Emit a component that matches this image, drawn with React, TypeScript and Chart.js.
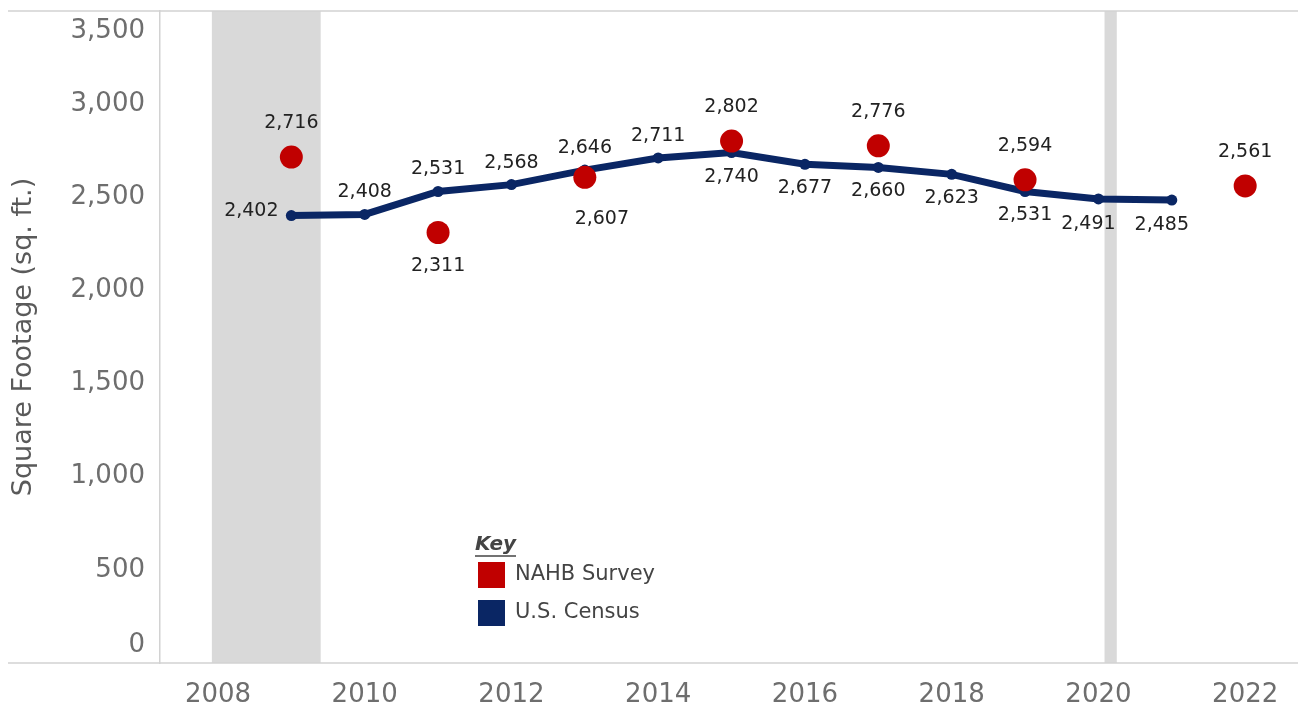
import React, { useEffect, useRef } from "react";
import { Chart, registerables } from "chart.js";

Chart.register(...registerables);

// ---- data ----
const censusYears = [2009, 2010, 2011, 2012, 2013, 2014, 2015, 2016, 2017, 2018, 2019, 2020, 2021];
const censusValues = [2402, 2408, 2531, 2568, 2646, 2711, 2740, 2677, 2660, 2623, 2531, 2491, 2485];
const censusLabelPos = ["left", "above", "above", "above", "above", "above", "below", "below", "below", "below", "below", "belowLeft", "belowLeft"];

const nahbYears = [2009, 2011, 2013, 2015, 2017, 2019, 2022];
const nahbValues = [2716, 2311, 2607, 2802, 2776, 2594, 2561];
const nahbLabelPos = ["above", "below", "belowRight", "above", "above", "above", "above"];

const xTicks = [2008, 2010, 2012, 2014, 2016, 2018, 2020, 2022];
const yTicks = [0, 500, 1000, 1500, 2000, 2500, 3000, 3500];

// recession periods (decimal years)
const recessions = [
  [2007.917, 2009.4],
  [2020.083, 2020.25],
];

const legendItems = ["NAHB Survey", "U.S. Census"];

// ---- styles ----
const FONT = "'DejaVu Sans', 'Liberation Sans', sans-serif";
const RED = "#c00000";
const NAVY = "#0a2664";
const TICK = "#6e6e6e";
const LINE = "#d2d2d2";

const censusOffsets: Record<string, [number, number]> = {
  above: [0, -22],
  below: [0, 24],
  left: [-40, -4],
  belowLeft: [-10, 25],
};
const nahbOffsets: Record<string, [number, number]> = {
  above: [0, -34],
  below: [0, 34],
  belowRight: [17, 42],
};

const fmt = (v: number) => v.toLocaleString("en-US");

export default function App() {
  const ref = useRef<HTMLCanvasElement | null>(null);

  useEffect(() => {
    const canvas = ref.current;
    if (!canvas) return;

    const decorPlugin = {
      id: "decor",
      beforeDatasetsDraw(chart: any) {
        const { ctx, chartArea, scales } = chart;
        ctx.save();
        ctx.fillStyle = "#d9d9d9";
        recessions.forEach(([a, b]) => {
          const x1 = scales.x.getPixelForValue(a);
          const x2 = scales.x.getPixelForValue(b);
          ctx.fillRect(x1, chartArea.top, x2 - x1, chartArea.bottom - chartArea.top);
        });
        ctx.restore();
      },
      afterDraw(chart: any) {
        const { ctx, chartArea } = chart;
        ctx.save();
        // frame lines
        ctx.strokeStyle = LINE;
        ctx.lineWidth = 1.5;
        ctx.beginPath();
        ctx.moveTo(8, chartArea.top);
        ctx.lineTo(chartArea.right, chartArea.top);
        ctx.moveTo(8, chartArea.bottom);
        ctx.lineTo(chartArea.right, chartArea.bottom);
        ctx.stroke();

        // clamped end tick labels
        ctx.fillStyle = TICK;
        ctx.font = `26px ${FONT}`;
        ctx.textAlign = "right";
        ctx.textBaseline = "middle";
        ctx.fillText(fmt(yTicks[yTicks.length - 1]), chartArea.left - 15, chartArea.top + 20);
        ctx.fillText(fmt(yTicks[0]), chartArea.left - 15, chartArea.bottom - 18);

        // data labels
        ctx.fillStyle = "#222222";
        ctx.font = `19px ${FONT}`;
        ctx.textAlign = "center";
        chart.data.datasets.forEach((ds: any, di: number) => {
          const meta = chart.getDatasetMeta(di);
          const pos = di === 0 ? nahbLabelPos : censusLabelPos;
          const offs = di === 0 ? nahbOffsets : censusOffsets;
          meta.data.forEach((el: any, i: number) => {
            const [dx, dy] = offs[pos[i]];
            ctx.fillText(fmt(ds.data[i].y), el.x + dx, el.y + dy);
          });
        });

        // legend
        const lx = 475;
        ctx.fillStyle = "#444444";
        ctx.textAlign = "left";
        ctx.font = `italic bold 20px ${FONT}`;
        ctx.fillText("Key", lx, 545);
        const kw = ctx.measureText("Key").width;
        ctx.strokeStyle = "#444444";
        ctx.lineWidth = 1.5;
        ctx.beginPath();
        ctx.moveTo(lx, 556);
        ctx.lineTo(lx + kw, 556);
        ctx.stroke();
        const colors = [RED, NAVY];
        const ys = [575, 613];
        ctx.font = `21px ${FONT}`;
        legendItems.forEach((t, i) => {
          ctx.fillStyle = colors[i];
          ctx.fillRect(478, ys[i] - 13, 27, 26);
          ctx.fillStyle = "#444444";
          ctx.fillText(t, 515, ys[i]);
        });
        ctx.restore();
      },
    };

    const chart = new Chart(canvas, {
      type: "line",
      data: {
        datasets: [
          {
            label: "NAHB Survey",
            data: nahbYears.map((x, i) => ({ x, y: nahbValues[i] })),
            showLine: false,
            pointRadius: 11.5,
            pointHoverRadius: 11.5,
            pointBackgroundColor: RED,
            pointBorderWidth: 0,
            borderColor: RED,
            backgroundColor: RED,
            order: 0,
          },
          {
            label: "U.S. Census",
            data: censusYears.map((x, i) => ({ x, y: censusValues[i] })),
            borderColor: NAVY,
            backgroundColor: NAVY,
            borderWidth: 7,
            pointRadius: 5.5,
            pointHoverRadius: 5.5,
            pointBackgroundColor: NAVY,
            pointBorderWidth: 0,
            tension: 0,
            order: 1,
          },
        ],
      },
      options: {
        responsive: false,
        animation: false,
        devicePixelRatio: 1,
        layout: { autoPadding: false, padding: { top: 11, right: 3, left: 0, bottom: 0 } },
        plugins: {
          legend: { display: false },
          tooltip: { enabled: false },
          title: { display: false },
        },
        scales: {
          x: {
            type: "linear",
            min: 2007.21,
            max: 2022.72,
            grid: { display: false, drawTicks: false },
            border: { display: false },
            afterBuildTicks: (s: any) => {
              s.ticks = xTicks.map((v) => ({ value: v }));
            },
            afterFit: (s: any) => {
              s.height = 46;
              s.paddingLeft = 0;
              s.paddingRight = 0;
            },
            ticks: {
              autoSkip: false,
              maxRotation: 0,
              padding: 17,
              color: TICK,
              font: { family: FONT, size: 26 },
              callback: (v: any) => String(v),
            },
          },
          y: {
            type: "linear",
            min: 0,
            max: 3500,
            grid: { display: false, drawTicks: false },
            border: { display: true, color: LINE, width: 1.5 },
            afterBuildTicks: (s: any) => {
              s.ticks = yTicks.map((v) => ({ value: v }));
            },
            afterFit: (s: any) => {
              s.width = 160;
              s.paddingTop = 0;
              s.paddingBottom = 0;
            },
            title: {
              display: true,
              text: "Square Footage (sq. ft.)",
              color: "#5a5a5a",
              font: { family: FONT, size: 27 },
              padding: { top: 8, bottom: 0 },
            },
            ticks: {
              padding: 15,
              color: (c: any) =>
                c.tick && (c.tick.value === yTicks[0] || c.tick.value === yTicks[yTicks.length - 1])
                  ? "rgba(0,0,0,0)"
                  : TICK,
              font: { family: FONT, size: 26 },
              callback: (v: any) => fmt(Number(v)),
            },
          },
        },
      },
      plugins: [decorPlugin],
    } as any);

    return () => chart.destroy();
  }, []);

  return (
    <div style={{ position: "absolute", left: 0, top: 0, width: 1301, height: 709, background: "#ffffff" }}>
      <canvas ref={ref} width={1301} height={709} style={{ width: 1301, height: 709, display: "block" }} />
    </div>
  );
}
